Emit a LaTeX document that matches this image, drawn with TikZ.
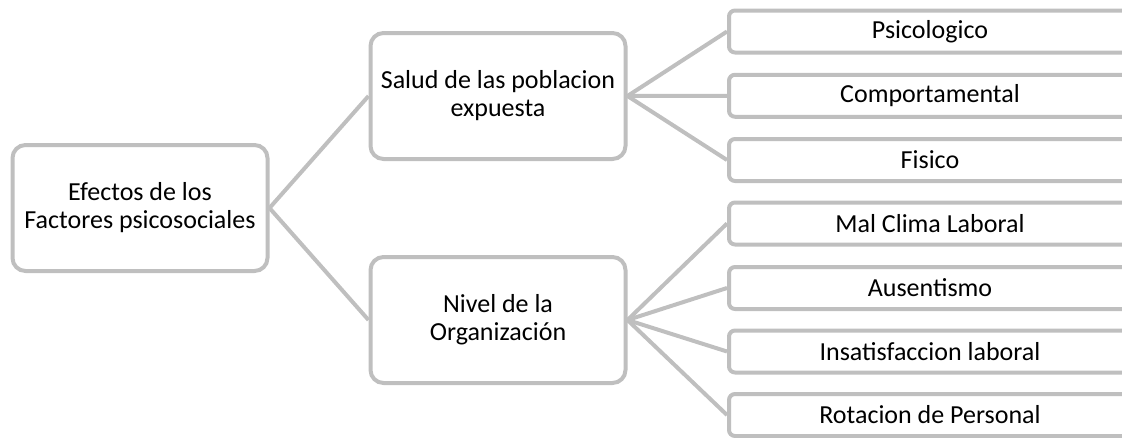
\documentclass[tikz,border=0pt]{standalone}
\usepackage{fontspec}
\setmainfont{Carlito}
\usetikzlibrary{positioning}
\definecolor{boxgray}{HTML}{BFBFBF}

\begin{document}
\begin{tikzpicture}
  [x=1pt,y=-1pt,
   box/.style={draw=boxgray,line width=4pt,rounded corners=13pt,fill=white,align=center,
     minimum width=255pt,minimum height=126pt,inner sep=0pt,font=\fontsize{26}{28}\selectfont},
   leaf/.style={box,rounded corners=6pt,minimum width=402pt,minimum height=42pt},
   link/.style={draw=boxgray,line width=4pt}]

  \useasboundingbox (0,0) rectangle (1122,437);
  \clip (0,0) rectangle (1122,437);

  % links first, boxes on top
  \coordinate (efe) at (267.5,208);
  \coordinate (salIn) at (370.5,96);
  \coordinate (nivIn) at (370.5,320);

  \node[box] (efectos) at (140,208) {Efectos de los\\Factores psicosociales};
  \node[box] (salud) at (498,96) {Salud de las poblacion\\expuesta};
  \node[box] (nivel) at (498,320) {Nivel de la\\Organización};

  \foreach \name/\y/\txt in {psico/31.5/Psicologico, comp/95.75/Comportamental, fisico/160/Fisico}
    {
      \node[leaf] (\name) at (930,\y) {\txt};
      \draw[link] (salud.east) -- (\name.west);
    }
  \foreach \name/\y/\txt in {clima/223.5/Mal Clima Laboral, ausen/288/Ausentismo,
      insat/351.5/Insatisfaccion laboral, rota/415/Rotacion de Personal}
    {
      \node[leaf] (\name) at (930,\y) {\txt};
      \draw[link] (nivel.east) -- (\name.west);
    }

  \draw[link] (efectos.east) -- (salud.west);
  \draw[link] (efectos.east) -- (nivel.west);
\end{tikzpicture}
\end{document}
